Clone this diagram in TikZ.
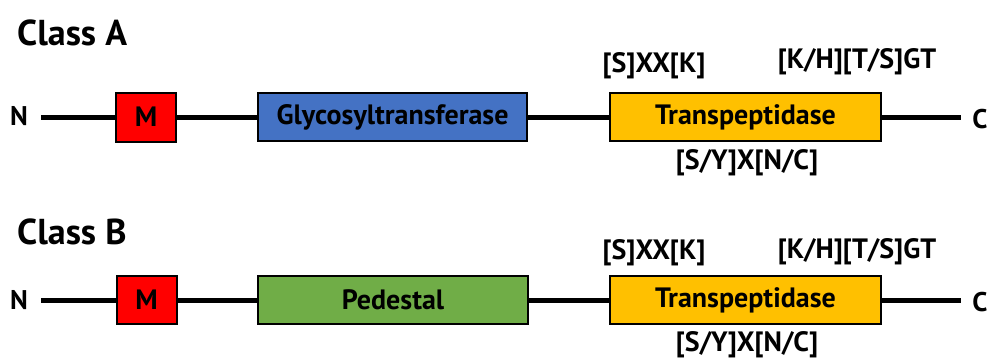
\documentclass[tikz,border=0pt]{standalone}
\usepackage{fontspec}
\setmainfont{PT Sans}
\definecolor{mred}{HTML}{FF0000}
\definecolor{gtblue}{HTML}{4472C4}
\definecolor{pedgreen}{HTML}{70AD47}
\definecolor{tpgold}{HTML}{FFC000}
\tikzset{
  protbox/.style={draw=black, line width=2pt, inner sep=0pt, outer sep=0pt,
    font=\fontsize{28}{32}\selectfont\bfseries},
  backbone/.style={line width=5pt},
  classtitle/.style={inner sep=0pt, anchor=base west, font=\fontsize{36}{40}\selectfont\bfseries},
  termlbl/.style={inner sep=0pt, font=\fontsize{27}{30}\selectfont\bfseries},
  motiflbl/.style={inner sep=0pt, font=\fontsize{28}{32}\selectfont\bfseries},
}
\begin{document}
\begin{tikzpicture}[x=1pt, y=-1pt]
\useasboundingbox (0,0) rectangle (990,362);

% ---- Class A ----
\node[classtitle] (titleA) at (17,45) {Class A};
\node[termlbl] (nA) at (19,116) {N};
\node[termlbl] (cA) at (980,119) {C};
\coordinate (startA) at (41,117);
\coordinate (endA) at (961,117);
\node[protbox, fill=mred, minimum width=60pt, minimum height=49pt] (mA) at (146,117) {M};
\node[protbox, fill=gtblue, minimum width=269pt, minimum height=48pt] (gtA) at (392.5,117) {Glycosyltransferase};
\node[protbox, fill=tpgold, minimum width=271pt, minimum height=48pt] (tpA) at (745.5,117) {Transpeptidase};
\node[motiflbl] (m1A) at (654,66) {[S]XX[K]};
\node[motiflbl] (m2A) at (857,62) {[K/H][T/S]GT};
\node[motiflbl] (m3A) at (747,163) {[S/Y]X[N/C]};
\draw[backbone] (startA) -- (mA.west);
\draw[backbone] (mA.east) -- (gtA.west);
\draw[backbone] (gtA.east) -- (tpA.west);
\draw[backbone] (tpA.east) -- (endA);

% ---- Class B ----
\node[classtitle] (titleB) at (17,244) {Class B};
\node[termlbl] (nB) at (19,300) {N};
\node[termlbl] (cB) at (980,302) {C};
\coordinate (startB) at (41,300);
\coordinate (endB) at (961,300);
\node[protbox, fill=mred, minimum width=60pt, minimum height=48pt] (mB) at (146.5,300) {M};
\node[protbox, fill=pedgreen, minimum width=270pt, minimum height=48pt] (pdB) at (393,300) {Pedestal};
\node[protbox, fill=tpgold, minimum width=271pt, minimum height=48pt] (tpB) at (745.5,300) {Transpeptidase};
\node[motiflbl] (m1B) at (654,253) {[S]XX[K]};
\node[motiflbl] (m2B) at (857,252) {[K/H][T/S]GT};
\node[motiflbl] (m3B) at (747,345) {[S/Y]X[N/C]};
\draw[backbone] (startB) -- (mB.west);
\draw[backbone] (mB.east) -- (pdB.west);
\draw[backbone] (pdB.east) -- (tpB.west);
\draw[backbone] (tpB.east) -- (endB);
\end{tikzpicture}
\end{document}
